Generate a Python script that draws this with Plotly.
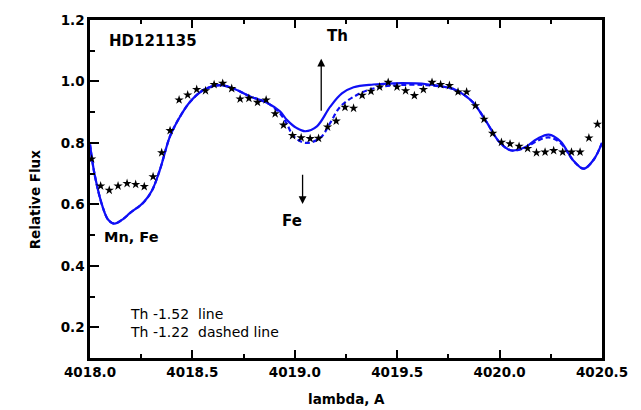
import plotly.graph_objects as go

# Observed spectrum of HD121135 (relative flux vs wavelength, Angstrom)
obs_wave = [
    4018.008, 4018.052, 4018.094, 4018.137, 4018.181, 4018.223, 4018.265, 4018.308,
    4018.350, 4018.391, 4018.435, 4018.477, 4018.521, 4018.564, 4018.606, 4018.648,
    4018.692, 4018.733, 4018.776, 4018.818, 4018.860, 4018.904, 4018.945, 4018.989,
    4019.031, 4019.075, 4019.116, 4019.160, 4019.202, 4019.245, 4019.287, 4019.329,
    4019.372, 4019.414, 4019.456, 4019.499, 4019.541, 4019.584, 4019.628, 4019.670,
    4019.712, 4019.755, 4019.797, 4019.839, 4019.882, 4019.924, 4019.966, 4020.009,
    4020.051, 4020.095, 4020.137, 4020.180, 4020.222, 4020.264, 4020.308, 4020.351,
    4020.393, 4020.436, 4020.478,
]
obs_flux = [
    0.748, 0.660, 0.646, 0.660, 0.668, 0.665, 0.658, 0.690,
    0.768, 0.840, 0.940, 0.956, 0.974, 0.970, 0.990, 0.994,
    0.977, 0.943, 0.945, 0.932, 0.940, 0.895, 0.858, 0.824,
    0.817, 0.814, 0.815, 0.852, 0.871, 0.916, 0.913, 0.955,
    0.968, 0.982, 0.997, 0.982, 0.970, 0.954, 0.974, 0.997,
    0.990, 0.987, 0.966, 0.966, 0.921, 0.877, 0.831, 0.802,
    0.797, 0.789, 0.782, 0.768, 0.770, 0.775, 0.770, 0.770,
    0.770, 0.816, 0.861,
]

# Synthetic spectrum, Th abundance -1.52 (solid)
syn1_wave = [
    4018.000, 4018.024, 4018.065, 4018.090, 4018.119, 4018.163, 4018.196, 4018.261,
    4018.302, 4018.342, 4018.391, 4018.440, 4018.489, 4018.554, 4018.635, 4018.700,
    4018.782, 4018.864, 4018.929, 4018.961, 4019.010, 4019.051, 4019.108, 4019.173,
    4019.230, 4019.287, 4019.384, 4019.482, 4019.645, 4019.776, 4019.830, 4019.873,
    4019.939, 4019.996, 4020.053, 4020.118, 4020.183, 4020.240, 4020.297, 4020.362,
    4020.411, 4020.460, 4020.500,
]
syn1_flux = [
    0.795, 0.692, 0.585, 0.549, 0.537, 0.553, 0.572, 0.606,
    0.644, 0.714, 0.822, 0.886, 0.934, 0.972, 0.988, 0.977,
    0.951, 0.931, 0.902, 0.875, 0.848, 0.838, 0.854, 0.918,
    0.961, 0.981, 0.990, 0.994, 0.991, 0.975, 0.955, 0.930,
    0.865, 0.805, 0.776, 0.784, 0.813, 0.827, 0.805, 0.741,
    0.716, 0.746, 0.800,
]

# Synthetic spectrum, Th abundance -1.22 (dashed)
syn2_wave = [
    4018.000, 4018.024, 4018.065, 4018.090, 4018.119, 4018.163, 4018.196, 4018.261,
    4018.302, 4018.342, 4018.391, 4018.440, 4018.489, 4018.554, 4018.635, 4018.700,
    4018.782, 4018.864, 4018.929, 4018.961, 4018.994, 4019.051, 4019.124, 4019.173,
    4019.222, 4019.303, 4019.384, 4019.482, 4019.645, 4019.776, 4019.830, 4019.873,
    4019.939, 4019.996, 4020.053, 4020.118, 4020.183, 4020.240, 4020.297, 4020.362,
    4020.411, 4020.460, 4020.500,
]
syn2_flux = [
    0.795, 0.692, 0.585, 0.549, 0.537, 0.553, 0.572, 0.606,
    0.644, 0.714, 0.822, 0.886, 0.934, 0.972, 0.988, 0.977,
    0.951, 0.931, 0.895, 0.862, 0.822, 0.800, 0.816, 0.865,
    0.918, 0.956, 0.977, 0.987, 0.988, 0.975, 0.955, 0.930,
    0.865, 0.805, 0.776, 0.782, 0.806, 0.818, 0.800, 0.741,
    0.716, 0.746, 0.800,
]

x_ticks = [4018.0, 4018.5, 4019.0, 4019.5, 4020.0, 4020.5]
y_ticks = [0.2, 0.4, 0.6, 0.8, 1.0, 1.2]

BLUE = "rgb(15,15,245)"
FONT = "DejaVu Sans"

fig = go.Figure()
fig.add_trace(go.Scatter(
    x=syn2_wave, y=syn2_flux, mode="lines", line_shape="spline",
    line=dict(color=BLUE, width=2.2, dash="5px,3px"), hoverinfo="skip",
))
fig.add_trace(go.Scatter(
    x=syn1_wave, y=syn1_flux, mode="lines", line_shape="spline",
    line=dict(color=BLUE, width=2.2), hoverinfo="skip",
))
fig.add_trace(go.Scatter(
    x=obs_wave, y=obs_flux, mode="markers",
    marker=dict(symbol="star", size=7, color="black", line=dict(width=0)),
))

axis_common = dict(
    showgrid=False, zeroline=False, showline=True, linecolor="black", linewidth=2.5,
    ticks="inside", tickcolor="black", tickwidth=2,
    tickfont=dict(family=FONT, size=13.5, color="black", weight="bold"),
)
fig.update_xaxes(
    range=[4018.0, 4020.5], tickvals=x_ticks, ticktext=[f"{v:.1f}" for v in x_ticks],
    ticklen=8, mirror="ticks",
    minor=dict(dtick=0.25, tick0=4018.0, ticks="inside", ticklen=4, tickwidth=2, tickcolor="black"),
    **axis_common,
)
fig.update_yaxes(
    range=[0.1, 1.2], tickvals=y_ticks, ticktext=[f"{v:.1f}" for v in y_ticks],
    ticklen=9, mirror=True,
    minor=dict(dtick=0.1, tick0=0.1, ticks="inside", ticklen=5, tickwidth=2, tickcolor="black"),
    **axis_common,
)

bold = dict(family=FONT, color="black", weight="bold")
regular = dict(family=FONT, color="black")
annotations = [
    dict(x=4018.083, y=1.133, text="HD121135", xanchor="left", font=dict(size=15, **bold)),
    dict(x=4019.207, y=1.147, text="Th", font=dict(size=15, **bold)),
    dict(x=4018.987, y=0.545, text="Fe", font=dict(size=15, **bold)),
    dict(x=4018.057, y=0.495, text="Mn, Fe", xanchor="left", font=dict(size=14.5, **bold)),
    dict(x=4018.186, y=0.242, text="Th -1.52\u00a0 line", xanchor="left", font=dict(size=14, **regular)),
    dict(x=4018.186, y=0.185, text="Th -1.22\u00a0 dashed line", xanchor="left", font=dict(size=14, **regular)),
]
for a in annotations:
    a.update(xref="x", yref="y", showarrow=False, yanchor="middle")

# Line markers for Th (up) and Fe (down)
arrows = [
    dict(x=4019.129, y=1.074, ax=4019.129, ay=0.900),
    dict(x=4019.038, y=0.601, ax=4019.038, ay=0.701),
]
for a in arrows:
    a.update(xref="x", yref="y", axref="x", ayref="y", text="", showarrow=True,
             arrowhead=2, arrowsize=1.2, arrowwidth=1.3, arrowcolor="black")

# Axis titles
titles = [
    dict(x=-0.128, y=0.468, xref="paper", yref="paper", text="Relative Flux", textangle=-90,
         showarrow=False, font=dict(size=13.5, **bold)),
    dict(x=0.5, y=-0.12, xref="paper", yref="paper", text="lambda, A", yanchor="middle",
         showarrow=False, font=dict(size=13.5, **bold)),
]

fig.update_layout(
    width=641, height=410,
    margin=dict(l=90, r=39, t=16, b=52),
    plot_bgcolor="white", paper_bgcolor="white",
    showlegend=False,
    annotations=annotations + arrows + titles,
)

fig.write_html("out.html")
